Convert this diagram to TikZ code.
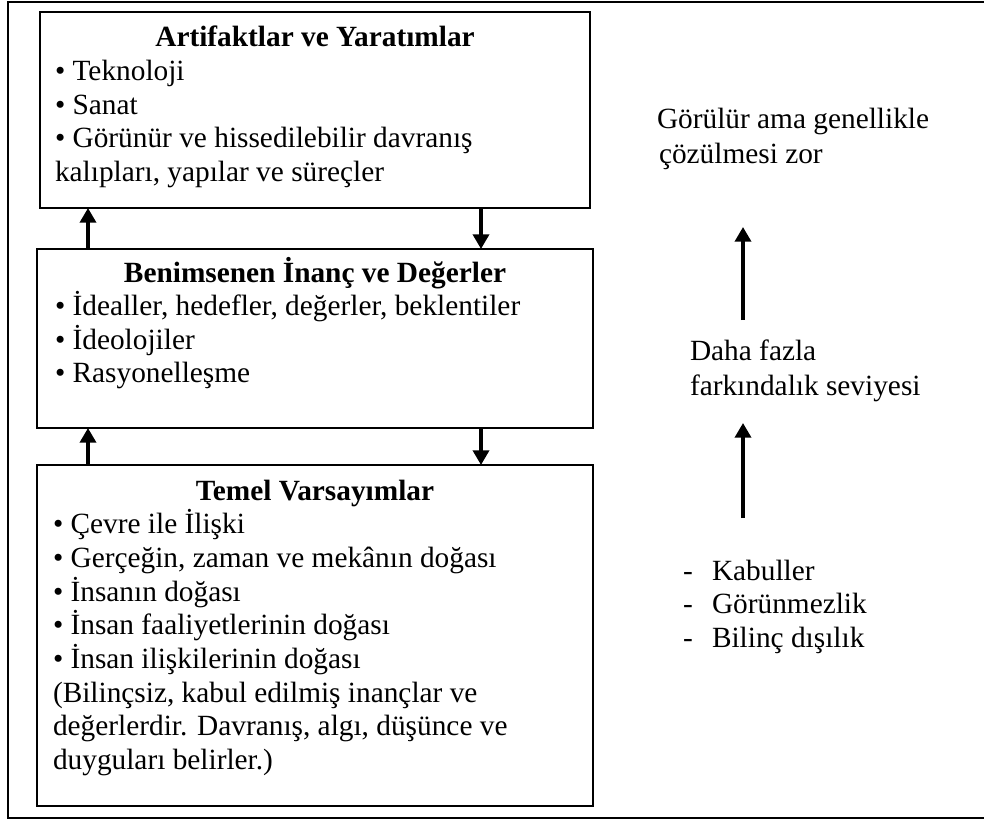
\documentclass[tikz,border=0pt]{standalone}
\usepackage{fontspec}
\setmainfont{Liberation Serif}
\usetikzlibrary{arrows.meta,fit}
\begin{document}
\begin{tikzpicture}[x=0.75pt,y=-0.75pt,
  every node/.style={inner sep=0pt,outer sep=0pt},
  txt/.style={anchor=base west,font=\fontsize{22}{25.3}\selectfont},
  ttl/.style={anchor=base,font=\fontsize{22}{25.3}\selectfont\bfseries},
  layer/.style={draw,line width=1.5pt,inner sep=0pt},
  flow/.style={line width=2.6pt,-{Triangle[width=12pt,length=11pt]}},
  frame/.style={line width=1.1pt}]
\useasboundingbox (0,0) rectangle (984,820);
\clip (0,0) rectangle (984,820);

% outer frame (its right side runs past the page)
\draw[frame] (8,2) rectangle (1000,818);

% the three layers
\node[layer,fit={(40,12) (590,208)}] (b1) {};
\node[layer,fit={(37,249) (593,428)}] (b2) {};
\node[layer,fit={(37,465) (593,806)}] (b3) {};

% layer 1: artifacts
\node[ttl] (t1) at (315,47) {Artifaktlar ve Yaratımlar};
\foreach \s/\y [count=\i] in {{• Teknoloji}/80.6,{• Sanat}/114.2,
    {• Görünür ve hissedilebilir davranış}/147.8,{kalıpları, yapılar ve süreçler}/181.4}
  \node[txt] (l1\i) at (55,\y) {\s};

% layer 2: espoused beliefs and values
\node[ttl] (t2) at (315,282) {Benimsenen İnanç ve Değerler};
\foreach \s/\y [count=\i] in {{• İdealler, hedefler, değerler, beklentiler}/315.6,
    {• İdeolojiler}/349.2,{• Rasyonelleşme}/382.8}
  \node[txt] (l2\i) at (55,\y) {\s};

% layer 3: basic assumptions
\node[ttl] (t3) at (315,500) {Temel Varsayımlar};
\foreach \s/\y [count=\i] in {{• Çevre ile İlişki}/533.7,
    {• Gerçeğin, zaman ve mekânın doğası}/567.4,
    {• İnsanın doğası}/601.1,{• İnsan faaliyetlerinin doğası}/634.8,
    {• İnsan ilişkilerinin doğası}/668.5,{(Bilinçsiz, kabul edilmiş inançlar ve}/702.2,
    {değerlerdir. Davranış, algı, düşünce ve}/735.9,{duyguları belirler.)}/769.6}
  \node[txt] (l3\i) at (53,\y) {\s};

% arrows between the layers
\coordinate (upx) at (88,0);
\coordinate (dnx) at (481,0);
\draw[flow] (b2.north -| upx) -- (b1.south -| upx);
\draw[flow] (b1.south -| dnx) -- (b2.north -| dnx);
\draw[flow] (b3.north -| upx) -- (b2.south -| upx);
\draw[flow] (b2.south -| dnx) -- (b3.north -| dnx);

% right-hand column
\node[txt] (r1) at (657,128) {Görülür ama genellikle};
\node[txt] (r2) at (659,164) {çözülmesi zor};
\node[txt] (r3) at (690,360) {Daha fazla};
\node[txt] (r4) at (690,395) {farkındalık seviyesi};
\foreach \s/\y [count=\i] in {Kabuller/580,Görünmezlik/613.5,{Bilinç dışılık}/647}{
  \node[txt] (d\i) at (683,\y) {-};
  \node[txt] (k\i) at (712,\y) {\s};
}

\coordinate (a1s) at (743,320);
\coordinate (a1e) at (743,227);
\coordinate (a2s) at (743,518);
\coordinate (a2e) at (743,423);
\draw[flow] (a1s) -- (a1e);
\draw[flow] (a2s) -- (a2e);
\end{tikzpicture}
\end{document}
